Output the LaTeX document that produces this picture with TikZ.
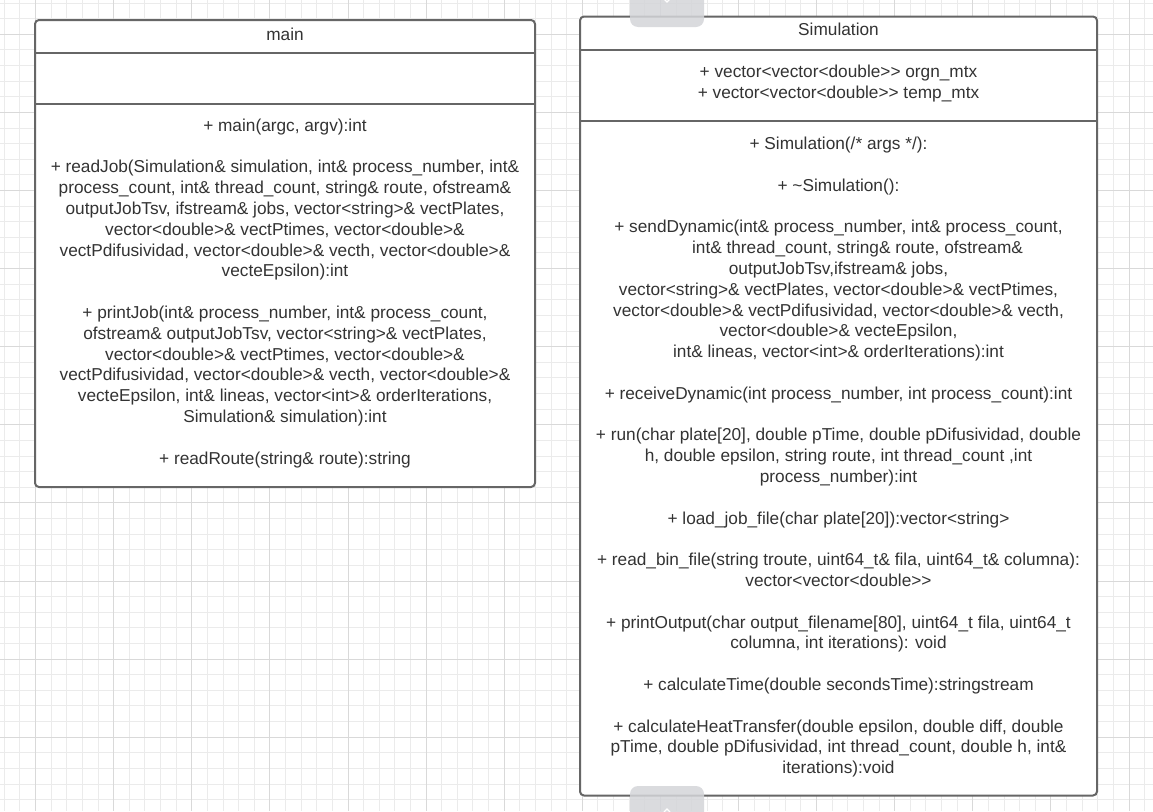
\documentclass[tikz,border=0pt]{standalone}
\usepackage{fontspec}
\setmainfont{Liberation Sans}
\definecolor{gridminor}{HTML}{EBEBEB}
\definecolor{gridmajor}{HTML}{D9D9D9}
\definecolor{boxline}{HTML}{666666}
\definecolor{txt}{HTML}{333333}
\definecolor{tabgray}{HTML}{D4D5D9}
\newcommand{\Ln}{\strut}
\tikzset{
  minorline/.style={draw=gridminor, line width=1pt},
  majorline/.style={draw=gridmajor, line width=1pt},
  classbox/.style={draw=boxline, line width=2pt, rounded corners=4pt, fill=white, inner sep=0pt},
  sepline/.style={draw=boxline, line width=2pt},
  umltext/.style={text=txt, font=\fontsize{17.25}{20.8}\selectfont, align=center, anchor=north, inner sep=0pt},
  tabshape/.style={fill=tabgray, fill opacity=0.85, rounded corners=8pt, inner sep=0pt}
}
\begin{document}
\begin{tikzpicture}[x=1pt,y=-1pt]
\useasboundingbox (0,0) rectangle (1153,811);
\fill[white] (0,0) rectangle (1153,811);
% grid
\foreach \i in {-3,...,72} {
  \draw[minorline] ({35.6+15.62*\i},0) -- ({35.6+15.62*\i},811);
}
\foreach \i in {-3,...,50} {
  \draw[minorline] (0,{34.3+15.62*\i}) -- (1153,{34.3+15.62*\i});
}
\foreach \i in {0,...,14} {
  \draw[majorline] ({35.6+78.1*\i},0) -- ({35.6+78.1*\i},811);
}
\foreach \i in {0,...,10} {
  \draw[majorline] (0,{34.3+78.1*\i}) -- (1153,{34.3+78.1*\i});
}

% main class
\node[classbox, minimum width=500pt, minimum height=467pt] (mainbox) at (285,253.5) {};
\draw[sepline] (mainbox.west |- 0,53) -- (mainbox.east |- 0,53);
\draw[sepline] (mainbox.west |- 0,103.5) -- (mainbox.east |- 0,103.5);
\node[umltext] (maintitle) at (285,{40.5-14.56}) {\Ln main};
\node[umltext] (mainops) at (285,{131-14.56}) {%
\Ln + main(argc, argv):int\\
\Ln\\
\Ln + readJob(Simulation\& simulation, int\& process\_number, int\&\\
\Ln process\_count, int\& thread\_count, string\& route, ofstream\&\\
\Ln outputJobTsv, ifstream\& jobs, vector<string>\& vectPlates,\\
\Ln vector<double>\& vectPtimes, vector<double>\&\\
\Ln vectPdifusividad, vector<double>\& vecth, vector<double>\&\\
\Ln vecteEpsilon):int\\
\Ln\\
\Ln + printJob(int\& process\_number, int\& process\_count,\\
\Ln ofstream\& outputJobTsv, vector<string>\& vectPlates,\\
\Ln vector<double>\& vectPtimes, vector<double>\&\\
\Ln vectPdifusividad, vector<double>\& vecth, vector<double>\&\\
\Ln vecteEpsilon, int\& lineas, vector<int>\& orderIterations,\\
\Ln Simulation\& simulation):int\\
\Ln\\
\Ln + readRoute(string\& route):string};

% Simulation class
\node[classbox, minimum width=517pt, minimum height=779pt] (simbox) at (838.5,406) {};
\draw[sepline] (simbox.west |- 0,49.5) -- (simbox.east |- 0,49.5);
\draw[sepline] (simbox.west |- 0,121) -- (simbox.east |- 0,121);
\node[umltext] (simtitle) at (838.5,{35.5-14.56}) {\Ln Simulation};
\node[umltext] (simattrs) at (838.5,{77.5-14.56}) {%
\Ln + vector<vector<double>{}> orgn\_mtx\\
\Ln + vector<vector<double>{}> temp\_mtx};
\node[umltext] (simops) at (838.5,{149.5-14.56}) {%
\Ln + Simulation(/* args */):\\
\Ln\\
\Ln + \textasciitilde Simulation():\\
\Ln\\
\Ln + sendDynamic(int\& process\_number, int\& process\_count,\\
\Ln \hspace*{38pt}int\& thread\_count, string\& route, ofstream\&\\
\Ln outputJobTsv,ifstream\& jobs,\\
\Ln vector<string>\& vectPlates, vector<double>\& vectPtimes,\\
\Ln vector<double>\& vectPdifusividad, vector<double>\& vecth,\\
\Ln vector<double>\& vecteEpsilon,\\
\Ln int\& lineas, vector<int>\& orderIterations):int\\
\Ln\\
\Ln + receiveDynamic(int process\_number, int process\_count):int\\
\Ln\\
\Ln + run(char plate[20], double pTime, double pDifusividad, double\\
\Ln h, double epsilon, string route, int thread\_count ,int\\
\Ln process\_number):int\\
\Ln\\
\Ln + load\_job\_file(char plate[20]):vector<string>\\
\Ln\\
\Ln + read\_bin\_file(string troute, uint64\_t\& fila, uint64\_t\& columna):\\
\Ln vector<vector<double>{}>\\
\Ln\\
\Ln + printOutput(char output\_filename[80], uint64\_t fila, uint64\_t\\
\Ln columna, int iterations): void\\
\Ln\\
\Ln + calculateTime(double secondsTime):stringstream\\
\Ln\\
\Ln + calculateHeatTransfer(double epsilon, double diff, double\\
\Ln pTime, double pDifusividad, int thread\_count, double h, int\&\\
\Ln iterations):void};

% handle tabs (drawn over the class box)
\node[tabshape, minimum width=74pt, minimum height=40pt] (tabtop) at (667,7) {};
\node[tabshape, minimum width=74pt, minimum height=40pt] (tabbot) at (667,806) {};
\coordinate (chevT) at (667,2);
\coordinate (chevB) at (667,809);
\draw[white, line width=1.2pt] ([xshift=-3pt,yshift=3pt]chevT) -- (chevT) -- ([xshift=3pt,yshift=3pt]chevT);
\draw[white, line width=1.2pt] ([xshift=-3pt,yshift=-3pt]chevB) -- (chevB) -- ([xshift=3pt,yshift=-3pt]chevB);
\end{tikzpicture}
\end{document}
